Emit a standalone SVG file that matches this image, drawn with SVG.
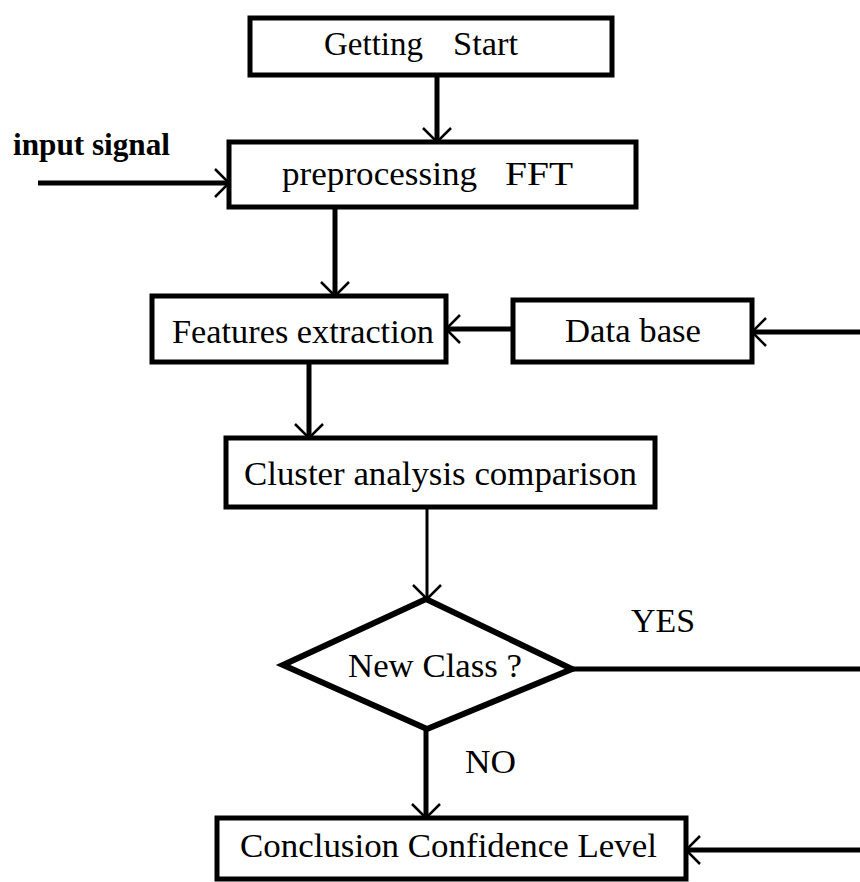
<svg xmlns="http://www.w3.org/2000/svg" width="860" height="882" viewBox="0 0 860 882">
<style>
.box{fill:#fff;stroke:#000;stroke-width:5}
.t{font-family:"Liberation Serif","Times New Roman",serif;font-size:34px;fill:#000}
.tb{font-family:"Liberation Serif","Times New Roman",serif;font-size:31px;font-weight:bold;fill:#000}
.c{fill:none;stroke:#000;stroke-width:5}
.thin{stroke-width:3}
</style>
<defs>
<marker id="ah" markerUnits="userSpaceOnUse" markerWidth="40" markerHeight="40" refX="0" refY="0" orient="auto" overflow="visible">
<path d="M-14,-14 L0,0 L-14,14" fill="none" stroke="#000" stroke-width="2.5"/>
</marker>
</defs>
<rect width="860" height="882" fill="#fff"/>
<g id="connectors">
<line class="c" x1="437" y1="75" x2="437" y2="142" marker-end="url(#ah)"/>
<line class="c" x1="38" y1="183" x2="229" y2="183" marker-end="url(#ah)"/>
<line class="c" x1="335" y1="207" x2="335" y2="296" marker-end="url(#ah)"/>
<line class="c" x1="513" y1="329" x2="446" y2="329" marker-end="url(#ah)"/>
<line class="c" x1="860" y1="332" x2="752" y2="332" marker-end="url(#ah)"/>
<line class="c" x1="309" y1="362" x2="309" y2="438" marker-end="url(#ah)"/>
<line class="c thin" x1="427" y1="507" x2="427" y2="599" marker-end="url(#ah)"/>
<line class="c" x1="572" y1="669" x2="860" y2="669"/>
<line class="c" x1="426" y1="729" x2="426" y2="818" marker-end="url(#ah)"/>
<line class="c" x1="860" y1="850" x2="686" y2="850" marker-end="url(#ah)"/>
<text class="t" x="631" y="632" textLength="64" lengthAdjust="spacingAndGlyphs">YES</text>
<text class="t" x="465" y="773" textLength="51" lengthAdjust="spacingAndGlyphs">NO</text>
<text class="tb" x="13" y="155" textLength="157" lengthAdjust="spacingAndGlyphs">input signal</text>
</g>
<g id="getting-start">
<rect class="box" x="250" y="18" width="362" height="57"/>
<text class="t" y="55"><tspan x="324" textLength="99" lengthAdjust="spacingAndGlyphs">Getting</tspan> <tspan x="453" textLength="65" lengthAdjust="spacingAndGlyphs">Start</tspan></text>
</g>
<g id="preprocessing">
<rect class="box" x="229" y="142" width="407" height="65"/>
<text class="t" y="185"><tspan x="282" textLength="195" lengthAdjust="spacingAndGlyphs">preprocessing</tspan> <tspan x="505" textLength="68" lengthAdjust="spacingAndGlyphs">FFT</tspan></text>
</g>
<g id="features">
<rect class="box" x="152" y="296" width="294" height="66"/>
<text class="t" x="172" y="343" textLength="262" lengthAdjust="spacingAndGlyphs">Features extraction</text>
</g>
<g id="database">
<rect class="box" x="513" y="300" width="239" height="62"/>
<text class="t" x="565" y="342" textLength="136" lengthAdjust="spacingAndGlyphs">Data base</text>
</g>
<g id="cluster">
<rect class="box" x="226" y="438" width="429" height="69"/>
<text class="t" x="244" y="485" textLength="393" lengthAdjust="spacingAndGlyphs">Cluster analysis comparison</text>
</g>
<g id="new-class">
<polygon points="283,665 426,599 572,669 427,729" fill="#fff" stroke="#000" stroke-width="6" stroke-linejoin="miter"/>
<text class="t" x="348" y="677" textLength="174" lengthAdjust="spacingAndGlyphs">New Class ?</text>
</g>
<g id="conclusion">
<rect class="box" x="217" y="818" width="469" height="61"/>
<text class="t" x="240" y="857" textLength="417" lengthAdjust="spacingAndGlyphs">Conclusion Confidence Level</text>
</g>
</svg>
